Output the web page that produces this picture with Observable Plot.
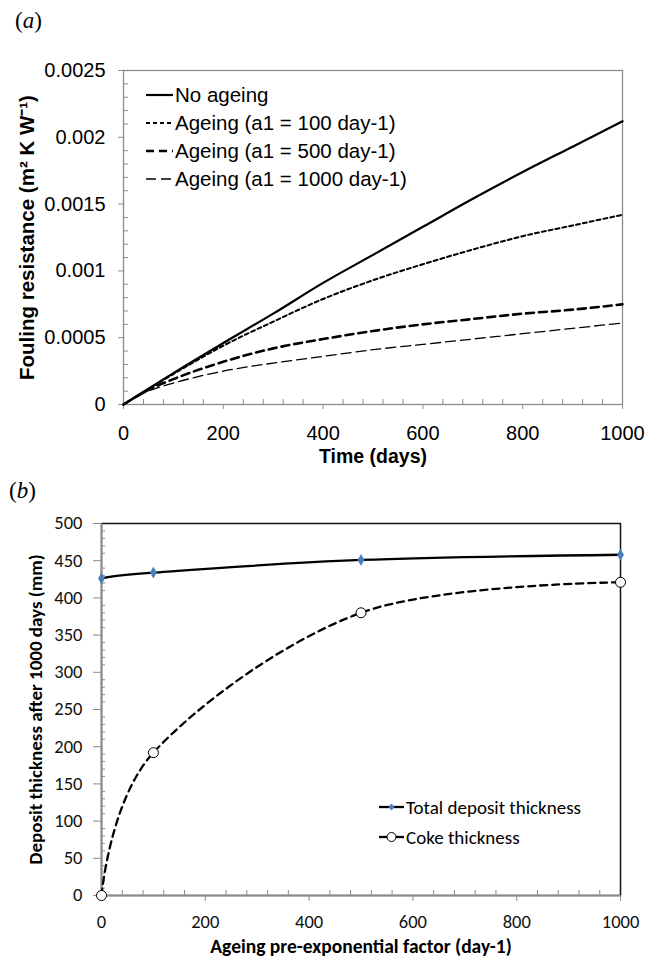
<!DOCTYPE html>
<html><head><meta charset="utf-8">
<script src="https://cdn.jsdelivr.net/npm/d3@7"></script>
<script src="https://cdn.jsdelivr.net/npm/@observablehq/plot@0.6"></script>
<style>
body{margin:0;background:#fff;}
#wrap{position:relative;width:650px;height:963px;overflow:hidden;background:#fff;}
.plot{position:absolute;left:0;}
.panel{position:absolute;font-family:"Liberation Serif","Times New Roman",serif;font-size:23px;color:#000;z-index:2;}
.leg{position:absolute;z-index:2;display:flex;align-items:center;white-space:nowrap;}
.leg svg{display:block;overflow:visible;}
</style></head><body><div id="wrap"></div>
<script>
// ---------- Panel (a) data ----------
const days = [0, 50, 100, 200, 300, 400, 500, 600, 700, 800, 900, 1000];
const rNoAgeing  = [0, 0.000118, 0.000235, 0.00046, 0.00068, 0.00091, 0.00112, 0.00133, 0.00154, 0.00174, 0.00193, 0.00212];
const rAgeing100 = [0, 0.000116, 0.000228, 0.00044, 0.00062, 0.00079, 0.00093, 0.00105, 0.00116, 0.00126, 0.00134, 0.00142];
const rAgeing500 = [0, 0.00011, 0.00019, 0.00032, 0.00042, 0.00049, 0.00055, 0.00060, 0.00064, 0.00068, 0.00071, 0.00075];
const rAgeing1000 = [0, 0.0001, 0.00016, 0.00025, 0.00031, 0.00036, 0.00041, 0.00045, 0.00049, 0.00053, 0.00057, 0.00061];
const seriesNamesA = ["No ageing", "Ageing (a1 = 100 day-1)", "Ageing (a1 = 500 day-1)", "Ageing (a1 = 1000 day-1)"];
const xTicksA = [0, 200, 400, 600, 800, 1000];
const yTicksA = [0, 0.0005, 0.001, 0.0015, 0.002, 0.0025];
const xTitleA = "Time (days)";
const yTitleA = "Fouling resistance (m\u00B2 K W\u207B\u00B9)";

// ---------- Panel (b) data ----------
const ageingFactor = [0, 100, 500, 1000];
const totalThickness = [426, 434, 451, 458];
const cokeThickness = [0, 192, 380, 421];
const seriesNamesB = ["Total deposit thickness", "Coke thickness"];
const xTicksB = [0, 200, 400, 600, 800, 1000];
const yTicksB = [0, 50, 100, 150, 200, 250, 300, 350, 400, 450, 500];
const xTitleB = "Ageing pre-exponential factor (day-1)";
const yTitleB = "Deposit thickness after 1000 days (mm)";

const wrap = document.getElementById("wrap");

// ---------- build rows ----------
const valuesA = [rNoAgeing, rAgeing100, rAgeing500, rAgeing1000];
const rowsA = seriesNamesA.flatMap((name, s) => days.map((d, i) => ({day: d, r: valuesA[s][i], name})));
const styleA = [
  {stroke: "#000", strokeWidth: 2.2, dash: null},
  {stroke: "#000", strokeWidth: 2, dash: "4,3"},
  {stroke: "#000", strokeWidth: 2.6, dash: "8,5"},
  {stroke: "#000", strokeWidth: 1.3, dash: "10,5"}
];
const minor = (lo, hi, step, majors) => d3.range(lo, hi + step / 2, step).filter(v => !majors.some(m => Math.abs(m - v) < step / 10));
const fmtA = d => d === 0 ? "0" : d3.format(".4~f")(d);
const grey = "#8c8c8c";

const plotA = Plot.plot({
  width: 650, height: 475,
  marginTop: 70, marginBottom: 71, marginLeft: 123, marginRight: 28,
  style: {fontFamily: "'Liberation Sans', Arial, sans-serif", fontSize: "20px", color: "#000", background: "transparent", overflow: "visible"},
  x: {domain: [0, 1000]},
  y: {domain: [0, 0.0025]},
  marks: [
    Plot.frame({stroke: grey, strokeWidth: 1.3}),
    Plot.axisX(minor(0, 1000, 40, xTicksA), {tickSize: -5, tickFormat: () => "", stroke: grey, label: null}),
    Plot.axisX(xTicksA, {tickSize: 5, tickPadding: 16, stroke: grey, fill: "#000", label: null, tickFormat: d3.format("d"), fontSize: 20}),
    Plot.axisY(minor(0, 0.0025, 0.0001, yTicksA), {tickSize: -5, tickFormat: () => "", stroke: grey, label: null}),
    Plot.axisY(yTicksA, {tickSize: 5, tickPadding: 13, stroke: grey, fill: "#000", label: null, tickFormat: fmtA, fontSize: 20}),
    ...seriesNamesA.map((name, s) => Plot.line(rowsA.filter(d => d.name === name), {
      x: "day", y: "r", curve: "monotone-x", stroke: styleA[s].stroke, strokeWidth: styleA[s].strokeWidth,
      strokeDasharray: styleA[s].dash
    })),
    Plot.text([xTitleA], {frameAnchor: "bottom", dy: 58, fontWeight: "bold", fontSize: 19.5, fill: "#000", textAnchor: "middle"}),
    Plot.text([yTitleA], {frameAnchor: "left", dx: -96, rotate: -90, fontWeight: "bold", fontSize: 20.5, fill: "#000", textAnchor: "middle"})
  ]
});
plotA.classList.add("plot");
plotA.style.top = "0px";
wrap.appendChild(plotA);

// ---------- panel (b) ----------
const rowsTotal = ageingFactor.map((a, i) => ({a, t: totalThickness[i]}));
const rowsCoke = ageingFactor.map((a, i) => ({a, t: cokeThickness[i]}));
const fontB = "Carlito, Calibri, Lato, sans-serif";
const blue = "#4a7ebb";

const plotB = Plot.plot({
  width: 650, height: 483,
  marginTop: 43, marginBottom: 68, marginLeft: 101, marginRight: 30,
  style: {fontFamily: fontB, fontSize: "18px", color: "#000", background: "transparent", overflow: "visible"},
  x: {domain: [0, 1000]},
  y: {domain: [0, 500]},
  marks: [
    Plot.frame({stroke: "#111", strokeWidth: 1.5}),
    Plot.ruleX([0], {stroke: grey, strokeWidth: 1.5}),
    Plot.ruleY([0], {stroke: grey, strokeWidth: 1.5}),
    Plot.axisX(minor(0, 1000, 40, xTicksB), {tickSize: -5, tickFormat: () => "", stroke: grey, label: null}),
    Plot.axisX(xTicksB, {tickSize: 6, tickPadding: 13, stroke: grey, fill: "#111", label: null, tickFormat: d3.format("d"), fontSize: 18.5}),
    Plot.axisY(minor(0, 500, 10, yTicksB), {tickSize: -4, tickFormat: () => "", stroke: grey, label: null}),
    Plot.axisY(yTicksB, {tickSize: 8, tickPadding: 11, stroke: grey, fill: "#111", label: null, tickFormat: d3.format("d"), fontSize: 18.5}),
    Plot.line(rowsTotal, {x: "a", y: "t", curve: "cardinal", stroke: "#000", strokeWidth: 2.3}),
    Plot.line(rowsCoke, {x: "a", y: "t", curve: "cardinal", stroke: "#000", strokeWidth: 2.3, strokeDasharray: "7,5"}),
    Plot.dot(rowsTotal, {x: "a", y: "t", symbol: "diamond", r: 3.6, fill: blue, stroke: "none"}),
    Plot.dot(rowsCoke, {x: "a", y: "t", r: 5, fill: "#fff", stroke: "#000", strokeWidth: 1}),
    Plot.text([xTitleB], {frameAnchor: "bottom", dy: 57, fontWeight: "bold", fontSize: 19.5, fill: "#000", textAnchor: "middle"}),
    Plot.text([yTitleB], {frameAnchor: "left", dx: -66, rotate: -90, fontWeight: "bold", fontSize: 19, fill: "#000", textAnchor: "middle"})
  ]
});
plotB.classList.add("plot");
plotB.style.top = "480px";
wrap.appendChild(plotB);

// ---------- panel letters ----------
function addPanel(letter, left, top) {
  const d = document.createElement("div");
  d.className = "panel";
  d.style.left = left + "px"; d.style.top = top + "px";
  d.innerHTML = "(<i>" + letter + "</i>)";
  wrap.appendChild(d);
}
addPanel("a", 15, 8);
addPanel("b", 9, 478);

// ---------- legends ----------
function addLegend(items, left, top, gap, font, size, sampleW) {
  items.forEach((it, i) => {
    const row = document.createElement("div");
    row.className = "leg";
    row.style.left = left + "px";
    row.style.top = (top + i * gap) + "px";
    row.style.fontFamily = font;
    row.style.fontSize = size + "px";
    row.style.height = "24px";
    const ns = "http://www.w3.org/2000/svg";
    const svg = document.createElementNS(ns, "svg");
    svg.setAttribute("width", sampleW); svg.setAttribute("height", 24);
    const ln = document.createElementNS(ns, "line");
    ln.setAttribute("x1", 0); ln.setAttribute("x2", sampleW);
    ln.setAttribute("y1", 12); ln.setAttribute("y2", 12);
    ln.setAttribute("stroke", "#000");
    ln.setAttribute("stroke-width", it.w);
    if (it.dash) ln.setAttribute("stroke-dasharray", it.dash);
    svg.appendChild(ln);
    if (it.marker === "diamond") {
      const p = document.createElementNS(ns, "path");
      const c = sampleW / 2;
      p.setAttribute("d", `M${c},8.5L${c + 3},12L${c},15.5L${c - 3},12Z`);
      p.setAttribute("fill", blue);
      svg.appendChild(p);
    } else if (it.marker === "circle") {
      const p = document.createElementNS(ns, "circle");
      p.setAttribute("cx", sampleW / 2); p.setAttribute("cy", 12); p.setAttribute("r", 4.5);
      p.setAttribute("fill", "#fff"); p.setAttribute("stroke", "#000");
      svg.appendChild(p);
    }
    row.appendChild(svg);
    const t = document.createElement("span");
    t.textContent = it.label;
    t.style.marginLeft = "2px";
    row.appendChild(t);
    wrap.appendChild(row);
  });
}
addLegend(seriesNamesA.map((n, s) => ({label: n, w: styleA[s].strokeWidth, dash: styleA[s].dash})),
  146, 83, 28, "'Liberation Sans', Arial, sans-serif", 20.5, 27);
addLegend([
  {label: seriesNamesB[0], w: 2.3, dash: null, marker: "diamond"},
  {label: seriesNamesB[1], w: 2.3, dash: null, marker: "circle"}
], 379, 795, 30, fontB, 19, 25);
</script>
</body></html>
